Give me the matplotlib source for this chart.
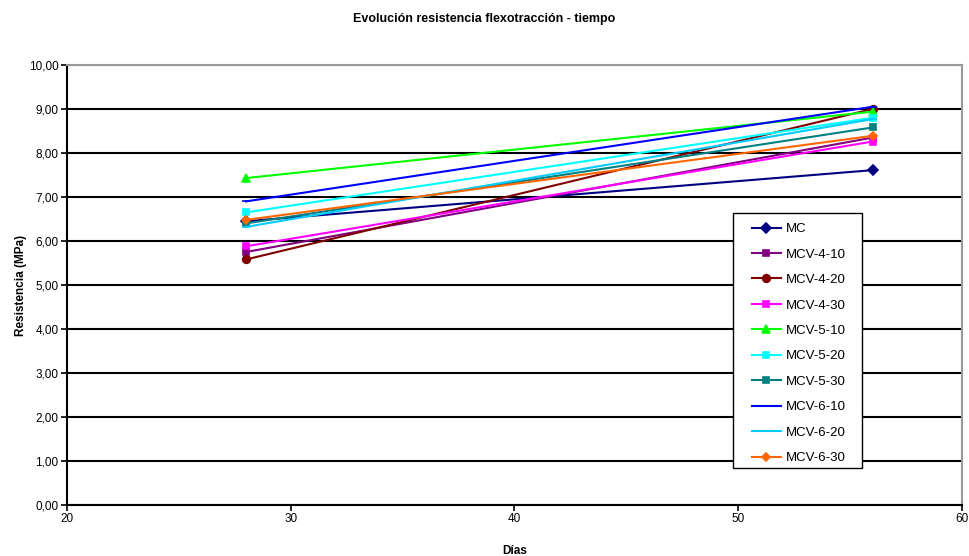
import matplotlib.pyplot as plt
from matplotlib.patches import Rectangle
from matplotlib.ticker import FuncFormatter, MultipleLocator

plt.rcParams['font.family'] = ['Liberation Sans', 'DejaVu Sans']

dias = [28, 56]
series = ['MC', 'MCV-4-10', 'MCV-4-20', 'MCV-4-30', 'MCV-5-10',
          'MCV-5-20', 'MCV-5-30', 'MCV-6-10', 'MCV-6-20', 'MCV-6-30']
mc = [6.45, 7.61]
mcv_4_10 = [5.75, 8.35]
mcv_4_20 = [5.58, 9.00]
mcv_4_30 = [5.88, 8.26]
mcv_5_10 = [7.43, 8.94]
mcv_5_20 = [6.65, 8.80]
mcv_5_30 = [6.40, 8.58]
mcv_6_10 = [6.90, 9.05]
mcv_6_20 = [6.32, 8.77]
mcv_6_30 = [6.48, 8.39]
valores = [mc, mcv_4_10, mcv_4_20, mcv_4_30, mcv_5_10,
           mcv_5_20, mcv_5_30, mcv_6_10, mcv_6_20, mcv_6_30]

colores = ['#000080', '#800080', '#800000', '#FF00FF', '#00FF00',
           '#00FFFF', '#008080', '#0000FF', '#00CCFF', '#FF6600']
marcadores = ['D', 's', 'o', 's', '^', 's', 's', '_', '_', 'D']
tamanos = [5, 5, 5.5, 5, 5.5, 5, 5, 6, 6, 4.5]

fig = plt.figure(figsize=(9.69, 5.56), dpi=100)
ax = fig.add_axes([0.0691, 0.0917, 0.9237, 0.7914])

for nombre, y, c, m, ms in zip(series, valores, colores, marcadores, tamanos):
    ax.plot(dias, y, color=c, marker=m, markersize=ms, linewidth=1.5,
            markeredgewidth=1.2, label=nombre)

ax.set_xlim(20, 60)
ax.set_ylim(0, 10)
ax.xaxis.set_major_locator(MultipleLocator(10))
ax.yaxis.set_major_locator(MultipleLocator(1))
ax.yaxis.set_major_formatter(FuncFormatter(lambda v, p: f'{v:.2f}'.replace('.', ',')))
ax.tick_params(labelsize=8.5, direction='out', length=4, width=1.2,
               colors='black', pad=2)

ax.grid(axis='y', color='black', linewidth=1.5)
ax.set_axisbelow(True)
for s in ['left', 'bottom']:
    ax.spines[s].set_linewidth(1.5)
    ax.spines[s].set_color('black')
for s in ['top', 'right']:
    ax.spines[s].set_linewidth(1.5)
    ax.spines[s].set_color('#999999')

ax.set_xlabel('Días', fontsize=8.5, fontweight='bold', labelpad=14)
ax.set_ylabel('Resistencia (MPa)', fontsize=8.5, fontweight='bold', labelpad=1)
fig.text(0.5, 0.965, 'Evolución resistencia flexotracción - tiempo',
         ha='center', va='center', fontsize=9, fontweight='bold')

# legend box drawn separately so the inner padding can be wider than tall
caja = Rectangle((0.7565, 0.1583), 0.1331, 0.4586, transform=fig.transFigure,
                 facecolor='white', edgecolor='black', linewidth=1.0,
                 clip_on=False, zorder=4)
ax.add_patch(caja)
leg = ax.legend(loc='upper left', bbox_to_anchor=(0.776, 0.5989),
                bbox_transform=fig.transFigure, fontsize=9.5, frameon=False,
                handlelength=2.2, labelspacing=1.0, borderpad=0,
                handletextpad=0.4, borderaxespad=0)
leg.set_zorder(5)

fig.savefig('out.png', dpi=100)
